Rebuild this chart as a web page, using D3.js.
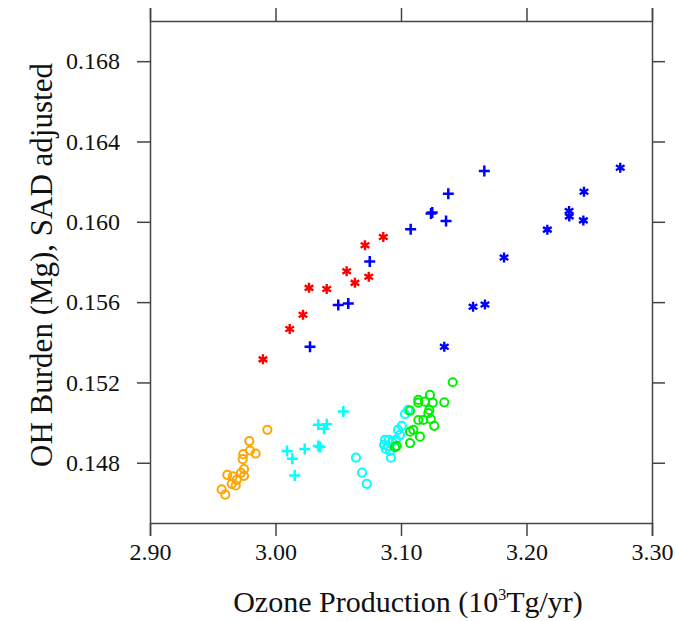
<!DOCTYPE html>
<html>
<head>
<meta charset="utf-8">
<script src="https://cdn.jsdelivr.net/npm/d3@7"></script>
<style>
  body { margin: 0; background: #fff; }
  svg text { font-family: "Liberation Serif", "Times New Roman", serif; fill: #111; }
</style>
</head>
<body>
<svg id="chart" width="675" height="621"></svg>
<script>
// Data: [ozone production, OH burden]
var redStars = [
  [2.990, 0.15315], [3.0113, 0.15466], [3.0219, 0.15537], [3.0267, 0.15671],
  [3.0408, 0.15665], [3.0567, 0.15754], [3.0633, 0.15696], [3.0713, 0.15883],
  [3.0743, 0.15726], [3.0859, 0.15924]
];
var bluePlus = [
  [3.0275, 0.15378], [3.0500, 0.15586], [3.0580, 0.15593], [3.0751, 0.15802],
  [3.1077, 0.15963], [3.1239, 0.16041], [3.1249, 0.16046], [3.1359, 0.16004],
  [3.1377, 0.16140], [3.1664, 0.16253]
];
var blueStars = [
  [3.1345, 0.15378], [3.1574, 0.15577], [3.1669, 0.15588], [3.1821, 0.15822],
  [3.2166, 0.15961], [3.2339, 0.16054], [3.2341, 0.16027], [3.2453, 0.16007],
  [3.2458, 0.16150], [3.2747, 0.16269]
];
var orangeCircles = [
  [2.9935, 0.14964], [2.9791, 0.14908], [2.9797, 0.14861], [2.9842, 0.14846],
  [2.9743, 0.14843], [2.9739, 0.14818], [2.9749, 0.14768], [2.9749, 0.14735],
  [2.9616, 0.14740], [2.9659, 0.14732], [2.9691, 0.14715], [2.9651, 0.14695],
  [2.9683, 0.14687], [2.9571, 0.14667], [2.9600, 0.14641], [2.9725, 0.14750]
];
var cyanPlus = [
  [3.0092, 0.14859], [3.0134, 0.14820], [3.0153, 0.14737], [3.0233, 0.14868],
  [3.0341, 0.14989], [3.0408, 0.14992], [3.0386, 0.14969], [3.0341, 0.14884],
  [3.0355, 0.14878], [3.0540, 0.15055]
];
var cyanCircles = [
  [3.0641, 0.14826], [3.0689, 0.14751], [3.0727, 0.14695], [3.0873, 0.14914],
  [3.0904, 0.14914], [3.0865, 0.14889], [3.0896, 0.14884], [3.0928, 0.14904],
  [3.0912, 0.14859], [3.0880, 0.14869], [3.0920, 0.14825], [3.0992, 0.14939],
  [3.1006, 0.14984], [3.1032, 0.15042], [3.1056, 0.15063], [3.0960, 0.14914],
  [3.0976, 0.14964]
];
var greenCircles = [
  [3.1412, 0.15201], [3.1231, 0.15138], [3.1138, 0.15113], [3.1138, 0.15099],
  [3.1191, 0.15104], [3.1253, 0.15099], [3.1345, 0.15101], [3.1226, 0.15063],
  [3.1072, 0.15060], [3.1218, 0.15047], [3.1178, 0.15013], [3.1138, 0.15013],
  [3.1237, 0.15017], [3.1265, 0.14984], [3.1098, 0.14964], [3.1072, 0.14955],
  [3.1151, 0.14930], [3.1072, 0.14898], [3.0966, 0.14884], [3.0952, 0.14878]
];

var xTicks = [2.90, 3.00, 3.10, 3.20, 3.30];
var yTicks = [0.148, 0.152, 0.156, 0.160, 0.164, 0.168];

(function () {
  var series = [
    { data: orangeCircles, shape: "circle", colour: "#ffa500" },
    { data: cyanCircles, shape: "circle", colour: "#00ffff" },
    { data: greenCircles, shape: "circle", colour: "#00f000" },
    { data: cyanPlus, shape: "plus", colour: "#00ffff" },
    { data: bluePlus, shape: "plus", colour: "#0000ff" },
    { data: redStars, shape: "star", colour: "#ff0000" },
    { data: blueStars, shape: "star", colour: "#0000ff" }
  ];

  var plotLeft = 150, plotRight = 652, plotTop = 21, plotBottom = 523;
  var tickLen = 13;
  var axisColour = '#444';

  var svg = d3.select("#chart");
  var x = d3.scaleLinear().domain([2.90, 3.30]).range([plotLeft, plotRight]);
  var y = d3.scaleLinear().domain([0.145, 0.170]).range([plotBottom, plotTop]);

  // markers
  function starPath(s) {
    var p = "";
    [90, 30, 150].forEach(function (a) {
      var r = a * Math.PI / 180;
      var dx = s * Math.cos(r), dy = s * Math.sin(r);
      p += "M" + (-dx) + "," + (-dy) + "L" + dx + "," + dy;
    });
    return p;
  }
  var plusPath = "M-5.5,0L5.5,0M0,-5.5L0,5.5";

  var marks = svg.append("g");
  series.forEach(function (s) {
    var g = marks.append("g");
    var sel = g.selectAll("path").data(s.data).enter();
    if (s.shape === "circle") {
      sel.append("circle")
        .attr("cx", function (d) { return x(d[0]); })
        .attr("cy", function (d) { return y(d[1]); })
        .attr("r", 4.1)
        .attr("fill", "none")
        .attr("stroke", s.colour)
        .attr("stroke-width", 2);
    } else {
      sel.append("path")
        .attr("d", s.shape === "plus" ? plusPath : starPath(5))
        .attr("transform", function (d) { return "translate(" + x(d[0]) + "," + y(d[1]) + ")"; })
        .attr("fill", "none")
        .attr("stroke", s.colour)
        .attr("stroke-width", s.shape === "plus" ? 2.5 : 2.4);
    }
  });

  // axes on all four sides, ticks outward
  function styleAxis(g) {
    g.selectAll("path, line").attr("stroke", axisColour).attr("stroke-width", 1.5);
    g.selectAll("text").attr("font-size", 24).attr("fill", "#111")
      .attr("font-family", '"Liberation Serif", serif');
  }

  svg.append("g").attr("transform", "translate(0," + plotBottom + ")")
    .call(d3.axisBottom(x).tickValues(xTicks).tickFormat(d3.format(".2f"))
      .tickSize(tickLen).tickPadding(7))
    .call(styleAxis);
  svg.append("g").attr("transform", "translate(0," + plotTop + ")")
    .call(d3.axisTop(x).tickValues(xTicks).tickFormat("").tickSize(tickLen))
    .call(styleAxis);
  svg.append("g").attr("transform", "translate(" + plotLeft + ",0)")
    .call(d3.axisLeft(y).tickValues(yTicks).tickFormat(d3.format(".3f"))
      .tickSize(tickLen).tickSizeOuter(0).tickPadding(17))
    .call(styleAxis);
  svg.append("g").attr("transform", "translate(" + plotRight + ",0)")
    .call(d3.axisRight(y).tickValues(yTicks).tickFormat("")
      .tickSize(tickLen).tickSizeOuter(0))
    .call(styleAxis);

  // axis titles
  var xt = svg.append("text")
    .attr("x", 408)
    .attr("y", 612)
    .attr("text-anchor", "middle")
    .attr("font-size", 30);
  xt.append("tspan").text("Ozone Production (10");
  xt.append("tspan").attr("font-size", 16).attr("dy", -12).text("3");
  xt.append("tspan").attr("dy", 12).text("Tg/yr)");

  svg.append("text")
    .attr("transform", "translate(52,265) rotate(-90)")
    .attr("text-anchor", "middle")
    .attr("font-size", 31)
    .text("OH Burden (Mg), SAD adjusted");
})();
</script>
</body>
</html>
